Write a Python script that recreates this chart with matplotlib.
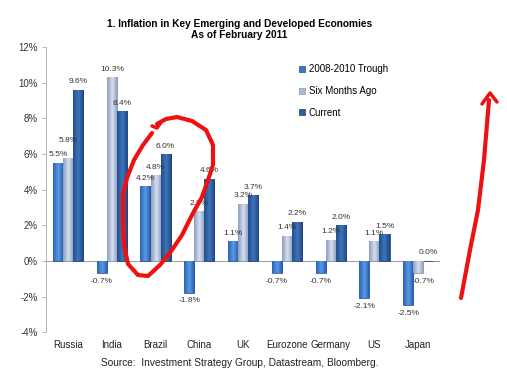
import matplotlib
matplotlib.use("Agg")
import matplotlib.pyplot as plt
import numpy as np
from matplotlib.colors import LinearSegmentedColormap

plt.rcParams["font.family"] = ["Liberation Sans", "DejaVu Sans"]

countries = ["Russia", "India", "Brazil", "China", "UK", "Eurozone", "Germany", "US", "Japan"]
trough = [5.5, -0.7, 4.2, -1.8, 1.1, -0.7, -0.7, -2.1, -2.5]
six_months = [5.8, 10.3, 4.8, 2.8, 3.2, 1.4, 1.2, 1.1, -0.7]
current = [9.6, 8.4, 6.0, 4.6, 3.7, 2.2, 2.0, 1.5, 0.0]
series_names = ["2008-2010 Trough", "Six Months Ago", "Current"]
yticks = [-4, -2, 0, 2, 4, 6, 8, 10, 12]

colors = ["#3a78c6", "#aab9d8", "#2c5e9e"]
grads = [("#2a64b4", "#5a9ae4", "#2458a6"),
         ("#8c9cc0", "#d6e0f0", "#8898bc"),
         ("#224f8c", "#3f74bc", "#1e4680")]
edges = ["#24508c", "#8393b3", "#1d3f6e"]

fig = plt.figure(figsize=(5.07, 3.77), dpi=100)
ax = fig.add_axes([0.091, 0.119, 0.777, 0.756])

x = np.arange(len(countries))
w = 0.23
all_series = [trough, six_months, current]
grad_img = np.linspace(0, 1, 64).reshape(1, -1)
for i, (vals, name) in enumerate(zip(all_series, series_names)):
    pos = x + (i - 1) * w
    bars = ax.bar(pos, vals, width=w, color=colors[i], edgecolor=edges[i], linewidth=0.5,
                  label=name, zorder=3)
    cmap = LinearSegmentedColormap.from_list(f"g{i}", [grads[i][0], grads[i][1], grads[i][2]])
    for b in bars:
        bx, by = b.get_x(), b.get_y()
        bw, bh = b.get_width(), b.get_height()
        if bh == 0:
            continue
        im = ax.imshow(grad_img, cmap=cmap, aspect="auto",
                       extent=[bx, bx + bw, min(by, by + bh), max(by, by + bh)],
                       zorder=3.5, interpolation="bilinear")
        im.set_clip_path(b)
    for j, (p, v) in enumerate(zip(pos, vals)):
        extra = 0.0
        if i == 1 and abs(v - trough[j]) < 0.5 and v >= 0 and trough[j] >= 0:
            extra = 0.5
        if v >= 0:
            ax.text(p, v + 0.25 + extra, f"{v:.1f}%", ha="center", va="bottom",
                    fontsize=6, color="#333333", zorder=4)
        else:
            dx = 0.12 if (i == 1) else 0.0
            ax.text(p + dx, v - 0.25, f"{v:.1f}%", ha="center", va="top",
                    fontsize=6, color="#333333", zorder=4)

ax.set_xlim(-0.5, len(countries) - 0.5)
ax.set_ylim(-4, 12)
ax.set_yticks(yticks)
ax.set_yticklabels([f"{t}%" for t in yticks], fontsize=7, color="#333333")
ax.set_xticks(x)
ax.set_xticklabels(countries, fontsize=7, color="#222222")
ax.tick_params(axis="x", length=0, pad=6)
ax.tick_params(axis="y", length=3, color="#aaaaaa", width=0.6, pad=3)
for s in ["top", "right", "bottom"]:
    ax.spines[s].set_visible(False)
ax.spines["left"].set_color("#aaaaaa")
ax.spines["left"].set_linewidth(0.6)
ax.axhline(0, color="#999999", linewidth=0.7, zorder=2)

leg = ax.legend(loc="upper left", bbox_to_anchor=(0.62, 0.97), frameon=False,
                fontsize=7, handlelength=0.6, handleheight=0.6,
                labelspacing=1.2, handletextpad=0.4)

fig.text(0.472, 0.922, "1. Inflation in Key Emerging and Developed Economies\nAs of February 2011",
         ha="center", va="center", fontsize=7.3, fontweight="bold", linespacing=1.1)
fig.text(0.472, 0.037, "Source:  Investment Strategy Group, Datastream, Bloomberg.",
         ha="center", va="center", fontsize=7.3, color="#222222")

# red hand-drawn annotations (figure pixel coords -> fraction)
def fp(px, py):
    return px / 507, 1 - py / 377

loop = [(157, 124), (166, 119), (177, 117), (192, 121), (206, 130), (213, 145),
        (213, 165), (208, 180), (202, 197), (192, 215), (182, 235), (172, 250),
        (160, 265), (148, 276), (138, 275), (128, 264), (124, 245), (123, 220),
        (123, 195), (127, 178), (134, 160), (143, 145), (152, 133)]
lx, ly = zip(*[fp(a, b) for a, b in loop])
fig.add_artist(plt.Line2D(lx, ly, color="#ee1111", linewidth=3, solid_capstyle="round"))
hook = [(152, 126), (157, 128), (162, 121)]
hx, hy = zip(*[fp(a, b) for a, b in hook])
fig.add_artist(plt.Line2D(hx, hy, color="#ee1111", linewidth=2.5, solid_capstyle="round"))

arrow = [(461, 298), (470, 250), (478, 210), (484, 160), (489, 100)]
ax_, ay_ = zip(*[fp(a, b) for a, b in arrow])
fig.add_artist(plt.Line2D(ax_, ay_, color="#ee1111", linewidth=3, solid_capstyle="round"))
head = [(482, 104), (490, 93), (497, 102)]
hx2, hy2 = zip(*[fp(a, b) for a, b in head])
fig.add_artist(plt.Line2D(hx2, hy2, color="#ee1111", linewidth=2.5, solid_capstyle="round"))

fig.savefig("out.png", dpi=100)
